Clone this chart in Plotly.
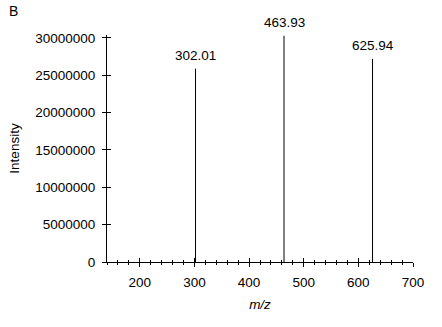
import plotly.graph_objects as go

# Data
mz = [302.01, 463.93, 625.94]
intensity = [25.9e6, 30.3e6, 27.2e6]
peak_labels = ["302.01", "463.93", "625.94"]
x_range = [140, 700]
y_range = [0, 30.4e6]
y_ticks = [0, 5e6, 10e6, 15e6, 20e6, 25e6, 30e6]
y_ticktext = ["0", "5000000", "10000000", "15000000", "20000000", "25000000", "30000000"]
x_ticks = [200, 300, 400, 500, 600, 700]

FONT = "Liberation Sans, Arial, sans-serif"
FS = 13.5

xs, ys = [], []
for m, i in zip(mz, intensity):
    xs += [m, m, None]
    ys += [0, i, None]

fig = go.Figure()
fig.add_trace(go.Scatter(x=xs, y=ys, mode="lines",
                         line=dict(color="black", width=1),
                         hoverinfo="skip", showlegend=False))
# invisible trace on overlay axes (for inside ticks)
fig.add_trace(go.Scatter(x=[x_range[0]], y=[0], xaxis="x2", yaxis="y2",
                         mode="markers", marker=dict(opacity=0),
                         hoverinfo="skip", showlegend=False))

for m, i, lab in zip(mz, intensity, peak_labels):
    fig.add_annotation(x=m, y=i, text=lab, showarrow=False,
                       yanchor="bottom", xanchor="center", yshift=4,
                       font=dict(size=FS, color="black", family=FONT))

fig.add_annotation(x=0, y=1, xref="paper", yref="paper", text="B",
                   showarrow=False, xanchor="left", yanchor="top",
                   xshift=-100, yshift=34,
                   font=dict(size=14, color="black", family=FONT))

axis_common = dict(showgrid=False, zeroline=False)

fig.update_layout(
    width=442, height=327,
    margin=dict(l=107, r=29, t=35, b=65),
    plot_bgcolor="white", paper_bgcolor="white",
    font=dict(family=FONT, size=FS, color="black"),
    xaxis=dict(range=x_range, tickvals=x_ticks, ticks="outside", ticklen=4,
               tickwidth=1, tickcolor="black", showline=True, linecolor="black",
               linewidth=1, ticklabelstandoff=4,
               minor=dict(dtick=20, tick0=0, ticks="outside", ticklen=2,
                          tickcolor="black", tickwidth=1),
               title=dict(text="<i>m/z</i>", standoff=10,
                          font=dict(size=FS, family=FONT)),
               **axis_common),
    yaxis=dict(range=y_range, tickvals=y_ticks, ticktext=y_ticktext,
               ticks="outside", ticklen=4, tickwidth=1, tickcolor="black",
               showline=True, linecolor="black", linewidth=1,
               ticklabelstandoff=4,
               title=dict(text="Intensity", standoff=12,
                          font=dict(size=FS, family=FONT)),
               **axis_common),
    xaxis2=dict(overlaying="x", matches="x", range=x_range, tickvals=x_ticks,
                ticks="inside", ticklen=4, tickwidth=1, tickcolor="black",
                showticklabels=False, showline=False,
                minor=dict(dtick=20, tick0=0, ticks="inside", ticklen=2,
                           tickcolor="black", tickwidth=1),
                **axis_common),
    yaxis2=dict(overlaying="y", matches="y", range=y_range, tickvals=y_ticks,
                ticks="inside", ticklen=4, tickwidth=1, tickcolor="black",
                showticklabels=False, showline=False, **axis_common),
)

fig.write_html("out.html")
